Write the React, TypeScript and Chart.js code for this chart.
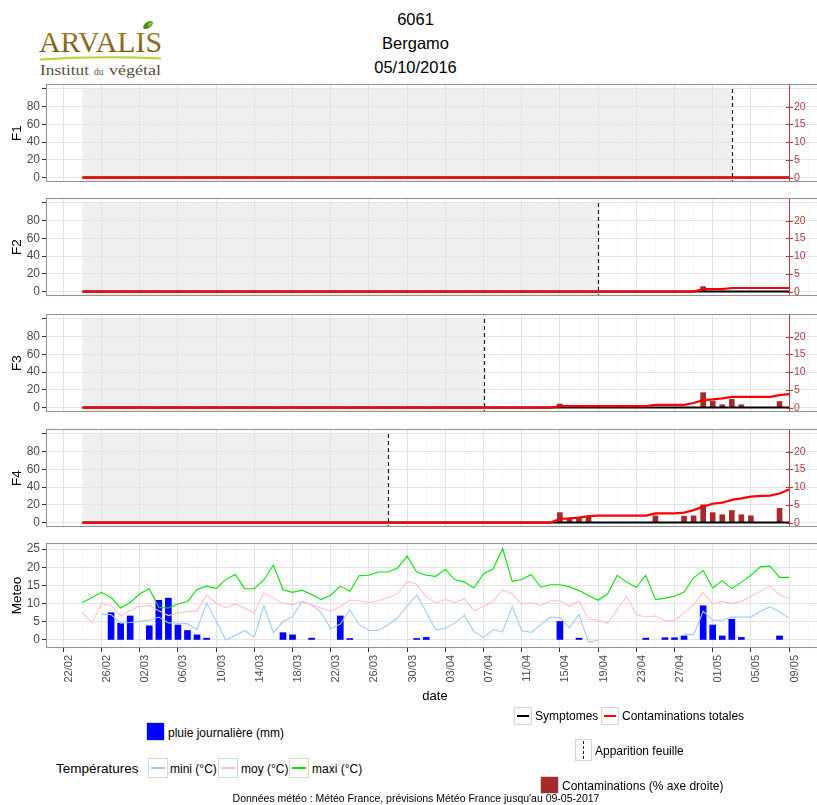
import { useEffect, useRef } from 'react';
import { Chart, registerables } from 'chart.js';

Chart.register(...registerables);

const FONT = '"Liberation Sans", Arial, Helvetica, sans-serif';

// ---------------- dates ----------------
const YEAR = 2017;
const ORIGIN_DATE = '22/02';
const FIRST_DATE = '24/02'; // first day of the daily series
const RIGHT_AXIS_DATE = '09/05';
const dateTicks = [
  '22/02', '26/02', '02/03', '06/03', '10/03', '14/03', '18/03', '22/03', '26/03', '30/03',
  '03/04', '07/04', '11/04', '15/04', '19/04', '23/04', '27/04', '01/05', '05/05', '09/05',
];

// ---------------- meteo (daily, from 24/02 to 09/05) ----------------
const tMax = [
  10.3, 11.7, 13.1, 11.7, 8.8, 10.3, 12.7, 14.1, 9.0, 8.8, 9.9, 10.6, 13.9, 14.8, 14.2,
  16.6, 18.0, 14.1, 14.1, 16.5, 20.6, 13.8, 13.1, 13.7, 12.5, 11.1, 12.3, 14.8, 13.4, 17.7,
  17.8, 18.7, 18.7, 19.8, 23.0, 18.7, 17.8, 17.5, 19.4, 16.6, 15.9, 14.3, 18.2, 19.5, 25.1,
  16.1, 16.6, 18.0, 14.5, 15.2, 15.2, 14.6, 13.6, 12.2, 10.9, 12.7, 17.8, 15.9, 14.5, 17.8,
  11.1, 11.5, 12.0, 13.2, 17.1, 19.1, 14.3, 16.3, 14.1, 15.9, 17.8, 20.1, 20.3, 17.2, 17.2,
];
const tMoy = [
  7.5, 4.7, 10.0, 9.5, 6.6, 8.1, 9.2, 9.5, 8.0, 6.7, 7.4, 7.8, 8.0, 12.4, 10.1,
  8.8, 9.9, 8.7, 7.4, 12.9, 11.5, 10.1, 9.7, 10.6, 9.6, 8.8, 7.9, 9.2, 11.0, 10.8,
  10.3, 10.8, 11.6, 12.6, 16.1, 15.3, 11.9, 10.2, 11.1, 10.3, 11.3, 8.0, 9.2, 10.6, 13.8,
  12.7, 9.9, 10.2, 9.5, 10.8, 10.8, 9.2, 10.8, 5.7, 5.5, 4.6, 8.3, 12.0, 6.9, 6.3,
  6.6, 5.3, 5.3, 7.4, 9.7, 13.1, 9.9, 10.6, 10.0, 10.6, 12.0, 13.4, 14.8, 12.4, 11.5,
];
const tMin: (number | null)[] = [
  null, null, 7.1, 7.0, 4.6, 4.8, 5.1, 5.4, 6.3, 4.7, 4.6, 4.5, 2.8, 10.2, 5.3,
  0.0, 1.2, 2.6, 0.7, 9.4, 2.0, 5.0, 6.4, 10.6, 9.6, 7.6, 3.1, 4.4, 8.3, 4.2,
  2.6, 2.6, 4.2, 6.0, 9.4, 12.4, 7.7, 2.8, 3.2, 4.7, 6.8, 2.3, 0.7, 2.8, 2.2,
  9.2, 2.6, 2.1, 4.2, 6.2, 6.2, 3.4, 7.0, -0.6, -0.1, null, null, null, null, null,
  null, null, null, 1.6, 1.4, 7.9, 5.4, 5.4, 6.3, 6.3, 6.3, 7.9, 9.2, 7.7, 6.0,
];
const rainDates = [
  '27/02', '28/02', '01/03', '03/03', '04/03', '05/03', '06/03', '07/03', '08/03', '09/03',
  '17/03', '18/03', '20/03', '23/03', '24/03', '31/03', '01/04', '15/04', '17/04', '24/04',
  '26/04', '27/04', '28/04', '30/04', '01/05', '02/05', '03/05', '04/05', '08/05',
];
const rainMm = [
  7.5, 4.6, 6.6, 3.9, 10.9, 11.5, 4.1, 2.6, 1.4, 0.5,
  2.0, 1.4, 0.5, 6.6, 0.4, 0.4, 0.7, 5.1, 0.5, 0.5,
  0.6, 0.6, 1.1, 9.4, 4.1, 1.1, 5.7, 0.7, 1.1,
];

// ---------------- leaves ----------------
const leafNames = ['F1', 'F2', 'F3', 'F4'];
const leafAppearance = ['03/05', '19/04', '07/04', '28/03'];

// symptoms (% , left axis), daily
const symptomes = [
  0, 0, 0, 0, 0, 0, 0, 0, 0, 0, 0, 0, 0, 0, 0,
  0, 0, 0, 0, 0, 0, 0, 0, 0, 0, 0, 0, 0, 0, 0,
  0, 0, 0, 0, 0, 0, 0, 0, 0, 0, 0, 0, 0, 0, 0,
  0, 0, 0, 0, 0, 0, 0, 0, 0, 0, 0, 0, 0, 0, 0,
  0, 0, 0, 0, 0, 0, 0, 0, 0, 0, 0, 0, 0, 0, 0,
];
// total contaminations (right axis), daily
const contTotF1 = [
  0, 0, 0, 0, 0, 0, 0, 0, 0, 0, 0, 0, 0, 0, 0,
  0, 0, 0, 0, 0, 0, 0, 0, 0, 0, 0, 0, 0, 0, 0,
  0, 0, 0, 0, 0, 0, 0, 0, 0, 0, 0, 0, 0, 0, 0,
  0, 0, 0, 0, 0, 0, 0, 0, 0, 0, 0, 0, 0, 0, 0,
  0, 0, 0, 0, 0, 0, 0, 0, 0, 0, 0, 0, 0, 0, 0,
];
const contTotF2 = [
  0, 0, 0, 0, 0, 0, 0, 0, 0, 0, 0, 0, 0, 0, 0,
  0, 0, 0, 0, 0, 0, 0, 0, 0, 0, 0, 0, 0, 0, 0,
  0, 0, 0, 0, 0, 0, 0, 0, 0, 0, 0, 0, 0, 0, 0,
  0, 0, 0, 0, 0, 0, 0, 0, 0, 0, 0, 0, 0, 0, 0,
  0, 0, 0, 0, 0, 0.7, 0.7, 0.7, 1.0, 1.0, 1.0, 1.0, 1.0, 1.0, 1.0,
];
const contTotF3 = [
  0, 0, 0, 0, 0, 0, 0, 0, 0, 0, 0, 0, 0, 0, 0,
  0, 0, 0, 0, 0, 0, 0, 0, 0, 0, 0, 0, 0, 0, 0,
  0, 0, 0, 0, 0, 0, 0, 0, 0, 0, 0, 0, 0, 0, 0,
  0, 0, 0, 0, 0, 0.4, 0.4, 0.4, 0.4, 0.4, 0.4, 0.4, 0.4, 0.4, 0.4,
  0.75, 0.75, 0.75, 0.75, 1.3, 2.1, 2.3, 2.6, 3.0, 3.0, 3.0, 3.0, 3.0, 3.5, 3.8,
];
const contTotF4 = [
  0, 0, 0, 0, 0, 0, 0, 0, 0, 0, 0, 0, 0, 0, 0,
  0, 0, 0, 0, 0, 0, 0, 0, 0, 0, 0, 0, 0, 0, 0,
  0, 0, 0, 0, 0, 0, 0, 0, 0, 0, 0, 0, 0, 0, 0,
  0, 0, 0, 0, 0, 1.0, 1.2, 1.4, 1.8, 1.95, 1.95, 1.95, 1.95, 1.95, 1.95,
  2.6, 2.6, 2.6, 2.8, 3.5, 4.5, 5.3, 5.6, 6.4, 6.8, 7.3, 7.5, 7.6, 8.2, 9.3,
];
// daily contaminations (bars, right axis)
const contDatesF1: string[] = [];
const contValsF1: number[] = [];
const contDatesF2 = ['30/04'];
const contValsF2 = [1.4];
const contDatesF3 = ['15/04', '30/04', '01/05', '02/05', '03/05', '04/05', '08/05'];
const contValsF3 = [1.0, 4.2, 1.8, 0.8, 2.3, 0.8, 1.7];
const contDatesF4 = [
  '15/04', '16/04', '17/04', '18/04', '25/04', '28/04', '29/04',
  '30/04', '01/05', '02/05', '03/05', '04/05', '05/05', '08/05',
];
const contValsF4 = [2.8, 0.9, 1.2, 1.7, 1.9, 1.8, 1.9, 5.0, 2.8, 2.2, 3.4, 2.2, 1.9, 4.0];

const contTot = [contTotF1, contTotF2, contTotF3, contTotF4];
const contDates = [contDatesF1, contDatesF2, contDatesF3, contDatesF4];
const contVals = [contValsF1, contValsF2, contValsF3, contValsF4];

// axis ticks
const fYMajor = [0, 20, 40, 60, 80, 100];
const fYLabels = ['0', '20', '40', '60', '80', ''];
const rightTicks = [0, 5, 10, 15, 20];
const RIGHT_RATIO = 4; // right axis 20 <-> left axis 80
const mYMajor = [0, 5, 10, 15, 20, 25];

// ---------------- helpers ----------------
const DAY_MS = 86400000;
function dayOf(s: string): number {
  const [dd, mm] = s.split('/').map(Number);
  const [od, om] = ORIGIN_DATE.split('/').map(Number);
  return Math.round((Date.UTC(YEAR, mm - 1, dd) - Date.UTC(YEAR, om - 1, od)) / DAY_MS);
}
const firstDay = dayOf(FIRST_DATE);
type Pt = { x: number; y: number | null };
const daily = (vals: (number | null)[]): Pt[] => vals.map((v, i) => ({ x: firstDay + i, y: v }));
const sparse = (dates: string[], vals: number[]): Pt[] => dates.map((d, i) => ({ x: dayOf(d), y: vals[i] }));

const majorDays = dateTicks.map(dayOf);
const xLabelByDay = new Map<number, string>(majorDays.map((d, i) => [d, dateTicks[i]]));
const xGridDays: number[] = [];
majorDays.forEach((d, i) => {
  xGridDays.push(d);
  if (i < majorDays.length - 1) xGridDays.push((d + majorDays[i + 1]) / 2);
  else xGridDays.push(d + (d - majorDays[i - 1]) / 2);
});
const fYGrid: number[] = [];
fYMajor.forEach((v, i) => {
  fYGrid.push(v);
  if (i < fYMajor.length - 1) fYGrid.push((v + fYMajor[i + 1]) / 2);
});
const mYGrid: number[] = [];
mYMajor.forEach((v, i) => {
  mYGrid.push(v);
  if (i < mYMajor.length - 1) mYGrid.push((v + mYMajor[i + 1]) / 2);
});

// ---------------- layout / style constants ----------------
const X_MIN = -1.71;
const X_MAX = 79.55;
const F_Y_MIN = -5;
const F_Y_MAX = 105.5;
const M_Y_MIN = -2.21;
const M_Y_MAX = 26.66;
const CANVAS_W = 840;
const PAD = 14;
const F_AREA_H = 98;
const F_AREA_TOPS = [84, 198, 314, 429];
const M_AREA_TOP = 543;
const M_AREA_H = 105;
const M_XAXIS_H = 60;

const GRID_MAJOR = '#E3E3E3';
const GRID_MINOR = '#F3F3F3';
const AXIS_TEXT = '#4D4D4D';
const TICK_COLOR = '#333333';
const BORDER = '#939393';
const SHADE = '#EFEFEF';
const RIGHT_AXIS = '#B03C3C';
const CONT_COLOR = '#A52A2A';
const RED = '#FF0000';
const MAXI = '#00E600';
const MOY = '#FFC0CB';
const MINI = '#9CCBF7';
const RAIN = '#0000FF';

const isMajorX = (v: any) => majorDays.includes(v);

function xScaleOpts(withLabels: boolean) {
  return {
    type: 'linear',
    min: X_MIN,
    max: X_MAX,
    offset: false,
    afterBuildTicks: (s: any) => {
      s.ticks = xGridDays.map((v) => ({ value: v }));
    },
    afterFit: (s: any) => {
      s.height = withLabels ? M_XAXIS_H : 0;
    },
    border: { display: false },
    grid: {
      offset: false,
      color: (c: any) => (isMajorX(c.tick?.value) ? GRID_MAJOR : GRID_MINOR),
      lineWidth: (c: any) => (isMajorX(c.tick?.value) ? 1 : 0.7),
      drawTicks: withLabels,
      tickLength: 4,
      tickColor: (c: any) => (isMajorX(c.tick?.value) ? TICK_COLOR : 'rgba(0,0,0,0)'),
      tickWidth: 1,
    },
    ticks: {
      display: withLabels,
      autoSkip: false,
      minRotation: 90,
      maxRotation: 90,
      labelOffset: 5.5,
      padding: 3,
      color: AXIS_TEXT,
      font: { family: FONT, size: 11 },
      callback: (v: any) => xLabelByDay.get(v) ?? '',
    },
    title: {
      display: withLabels,
      text: 'date',
      color: '#000',
      font: { family: FONT, size: 13 },
      padding: { top: 0, bottom: 4 },
    },
  };
}

function yScaleOpts(title: string, min: number, max: number, grid: number[], major: number[], labels: string[]) {
  return {
    type: 'linear',
    position: 'left',
    min,
    max,
    afterBuildTicks: (s: any) => {
      s.ticks = grid.map((v) => ({ value: v }));
    },
    afterFit: (s: any) => {
      s.width = 47;
    },
    border: { display: false },
    grid: {
      color: (c: any) => (major.includes(c.tick?.value) ? GRID_MAJOR : GRID_MINOR),
      lineWidth: (c: any) => (major.includes(c.tick?.value) ? 1 : 0.7),
      drawTicks: true,
      tickLength: 5,
      tickColor: (c: any) => (major.includes(c.tick?.value) ? TICK_COLOR : 'rgba(0,0,0,0)'),
      tickWidth: 1,
    },
    ticks: {
      padding: 2,
      color: AXIS_TEXT,
      font: { family: FONT, size: 12 },
      callback: (v: any) => {
        const k = major.indexOf(v);
        return k >= 0 ? labels[k] : '';
      },
    },
    title: {
      display: true,
      text: title,
      color: '#000',
      font: { family: FONT, size: 13.5 },
      padding: { top: 9, bottom: 0 },
    },
  };
}

function decor(p: { shadeFrom?: number; leafDay?: number; rightAxisDay?: number }) {
  return {
    id: 'decor',
    beforeDraw(chart: any) {
      if (p.leafDay == null || p.shadeFrom == null) return;
      const { ctx, chartArea: a, scales } = chart;
      const x0 = scales.x.getPixelForValue(p.shadeFrom);
      const x1 = scales.x.getPixelForValue(p.leafDay);
      const yTop = scales.y.getPixelForValue(100);
      ctx.save();
      ctx.fillStyle = SHADE;
      ctx.fillRect(x0, yTop, x1 - x0, a.bottom - yTop);
      ctx.restore();
    },
    afterDatasetsDraw(chart: any) {
      const { ctx, chartArea: a, scales } = chart;
      ctx.save();
      if (p.leafDay != null) {
        const x = Math.round(scales.x.getPixelForValue(p.leafDay)) + 0.5;
        const yTop = scales.y.getPixelForValue(100);
        ctx.strokeStyle = '#222';
        ctx.lineWidth = 1.2;
        ctx.setLineDash([4, 3]);
        ctx.beginPath();
        ctx.moveTo(x, yTop);
        ctx.lineTo(x, a.bottom);
        ctx.stroke();
        ctx.setLineDash([]);
      }
      if (p.rightAxisDay != null) {
        const x = Math.round(scales.x.getPixelForValue(p.rightAxisDay)) + 0.5;
        ctx.strokeStyle = RIGHT_AXIS;
        ctx.lineWidth = 1;
        ctx.beginPath();
        ctx.moveTo(x, a.top);
        ctx.lineTo(x, a.bottom);
        ctx.stroke();
        ctx.fillStyle = RIGHT_AXIS;
        ctx.font = `10.5px ${FONT}`;
        ctx.textAlign = 'left';
        ctx.textBaseline = 'middle';
        rightTicks.forEach((v) => {
          const y = Math.round(scales.y2.getPixelForValue(v)) + 0.5;
          ctx.beginPath();
          ctx.moveTo(x - 3.5, y);
          ctx.lineTo(x + 3.5, y);
          ctx.stroke();
          ctx.fillText(String(v), x + 4.5, y);
        });
      }
      ctx.restore();
    },
    afterDraw(chart: any) {
      const { ctx, chartArea: a } = chart;
      ctx.save();
      ctx.strokeStyle = BORDER;
      ctx.lineWidth = 1.1;
      ctx.strokeRect(Math.round(a.left) - 0.5, Math.round(a.top) + 0.5, a.right - a.left + 1, a.bottom - a.top - 1);
      ctx.restore();
    },
  };
}

const baseOptions = {
  responsive: false,
  animation: false,
  events: [],
  plugins: { legend: { display: false }, tooltip: { enabled: false }, title: { display: false } },
};

function fConfig(i: number) {
  return {
    type: 'line',
    data: {
      datasets: [
        {
          type: 'bar',
          label: 'Contaminations (% axe droite)',
          data: sparse(contDates[i], contVals[i]),
          yAxisID: 'y2',
          backgroundColor: CONT_COLOR,
          barThickness: 5,
          order: 3,
        },
        {
          type: 'line',
          label: 'Symptomes',
          data: daily(symptomes),
          yAxisID: 'y',
          borderColor: '#000',
          borderWidth: 2,
          pointRadius: 0,
          tension: 0,
          order: 2,
        },
        {
          type: 'line',
          label: 'Contaminations totales',
          data: daily(contTot[i]),
          yAxisID: 'y2',
          borderColor: RED,
          borderWidth: 2.2,
          pointRadius: 0,
          tension: 0,
          order: 1,
        },
      ],
    },
    options: {
      ...baseOptions,
      layout: { padding: { left: 0, right: 17, top: PAD, bottom: PAD } },
      scales: {
        x: xScaleOpts(false),
        y: yScaleOpts(leafNames[i], F_Y_MIN, F_Y_MAX, fYGrid, fYMajor, fYLabels),
        y2: { type: 'linear', display: false, min: F_Y_MIN / RIGHT_RATIO, max: F_Y_MAX / RIGHT_RATIO },
      },
    },
    plugins: [
      decor({ shadeFrom: firstDay, leafDay: dayOf(leafAppearance[i]), rightAxisDay: dayOf(RIGHT_AXIS_DATE) }),
    ],
  };
}

function meteoConfig() {
  return {
    type: 'line',
    data: {
      datasets: [
        { type: 'line', label: 'maxi (°C)', data: daily(tMax), borderColor: MAXI, borderWidth: 1.1, pointRadius: 0, tension: 0, order: 1 },
        { type: 'line', label: 'moy (°C)', data: daily(tMoy), borderColor: MOY, borderWidth: 1.1, pointRadius: 0, tension: 0, order: 2 },
        { type: 'line', label: 'mini (°C)', data: daily(tMin), borderColor: MINI, borderWidth: 1.1, pointRadius: 0, tension: 0, order: 3 },
        { type: 'bar', label: 'pluie journalière (mm)', data: sparse(rainDates, rainMm), backgroundColor: RAIN, barThickness: 6, order: 4 },
      ],
    },
    options: {
      ...baseOptions,
      layout: { padding: { left: 0, right: 17, top: PAD, bottom: 0 } },
      scales: {
        x: xScaleOpts(true),
        y: yScaleOpts('Meteo', M_Y_MIN, M_Y_MAX, mYGrid, mYMajor, mYMajor.map(String)),
      },
    },
    plugins: [decor({})],
  };
}

// ---------------- legend pieces ----------------
const abs = (s: any) => ({ position: 'absolute' as const, ...s });

function Txt({ left, cy, size = 12, children }: { left: number; cy: number; size?: number; children: any }) {
  return (
    <div style={abs({ left, top: cy - size * 0.62, fontSize: size, lineHeight: `${size * 1.2}px`, whiteSpace: 'nowrap', color: '#000' })}>
      {children}
    </div>
  );
}

function Key({ left, top, w = 18, h = 18, fill, line, dashed }: any) {
  return (
    <div
      style={abs({
        left,
        top,
        width: w,
        height: h,
        boxSizing: 'border-box',
        border: '1px solid #D6D6D6',
        background: fill || '#fff',
      })}
    >
      {line && <div style={abs({ left: 2, right: 2, top: h / 2 - 2, height: 2.2, background: line })} />}
      {dashed && <div style={abs({ left: w / 2 - 1.5, top: 1, bottom: 1, width: 0, borderLeft: '1.3px dashed #222' })} />}
    </div>
  );
}

export default function App() {
  const r0 = useRef<HTMLCanvasElement>(null);
  const r1 = useRef<HTMLCanvasElement>(null);
  const r2 = useRef<HTMLCanvasElement>(null);
  const r3 = useRef<HTMLCanvasElement>(null);
  const r4 = useRef<HTMLCanvasElement>(null);
  const fRefs = [r0, r1, r2, r3];

  useEffect(() => {
    document.body.style.margin = '0';
    const charts: Chart[] = [];
    fRefs.forEach((r, i) => {
      if (r.current) charts.push(new Chart(r.current, fConfig(i) as any));
    });
    if (r4.current) charts.push(new Chart(r4.current, meteoConfig() as any));
    return () => charts.forEach((c) => c.destroy());
  }, []);

  const fH = F_AREA_H + 2 * PAD;
  const mH = PAD + M_AREA_H + M_XAXIS_H;

  return (
    <div style={abs({ left: 0, top: 0, width: 817, height: 805, overflow: 'hidden', background: '#fff', fontFamily: FONT })}>
      {/* logo */}
      <svg style={abs({ left: 0, top: 0 })} width={200} height={85}>
        <defs>
          <linearGradient id="gold" x1="0" y1="0" x2="0" y2="1">
            <stop offset="0" stopColor="#B08B2C" />
            <stop offset="1" stopColor="#6E5012" />
          </linearGradient>
        </defs>
        <text x={39} y={52} fontFamily='"Liberation Serif", serif' fontSize={30} fill="url(#gold)" textLength={123} lengthAdjust="spacingAndGlyphs">
          ARVALIS
        </text>
        <ellipse cx={148} cy={25} rx={5.5} ry={3.2} transform="rotate(-35 148 25)" fill="#4F8E1D" />
        <ellipse cx={150} cy={24} rx={2.5} ry={1.5} transform="rotate(-35 150 24)" fill="#8CC43A" />
        <path d="M40 59.5 Q100 55.5 161 58.5" stroke="#B9D231" strokeWidth={2} fill="none" />
        <text x={40} y={74.5} fontFamily='"Liberation Serif", serif' fontSize={14.5} fill="#5C5038" textLength={49} lengthAdjust="spacingAndGlyphs">
          Institut
        </text>
        <text x={94} y={74.5} fontFamily='"Liberation Serif", serif' fontSize={9.5} fill="#5C5038">
          du
        </text>
        <text x={109} y={74.5} fontFamily='"Liberation Serif", serif' fontSize={14.5} fill="#5C5038" textLength={52} lengthAdjust="spacingAndGlyphs">
          végétal
        </text>
      </svg>

      {/* title */}
      {[
        ['6061', 10.4],
        ['Bergamo', 34.4],
        ['05/10/2016', 57.7],
      ].map(([t, top]) => (
        <div key={t as string} style={abs({ left: 415.5, top, transform: 'translateX(-50%)', fontSize: 16.5, lineHeight: '19.8px', whiteSpace: 'nowrap', color: '#000' })}>
          {t}
        </div>
      ))}

      {/* leaf panels */}
      {fRefs.map((r, i) => (
        <canvas
          key={i}
          ref={r}
          width={CANVAS_W}
          height={fH}
          style={abs({ left: 0, top: F_AREA_TOPS[i] - PAD, width: CANVAS_W, height: fH })}
        />
      ))}
      {/* meteo panel */}
      <canvas ref={r4} width={CANVAS_W} height={mH} style={abs({ left: 0, top: M_AREA_TOP - PAD, width: CANVAS_W, height: mH })} />

      {/* legends */}
      <Key left={514} top={707} line="#000" />
      <Txt left={535} cy={716}>Symptomes</Txt>
      <Key left={601} top={707} line={RED} />
      <Txt left={622} cy={716}>Contaminations totales</Txt>

      <Key left={146} top={722} w={19} h={19} fill={RAIN} />
      <Txt left={168} cy={733}>pluie journalière (mm)</Txt>

      <Key left={575} top={739} w={17} h={22} dashed />
      <Txt left={595} cy={751}>Apparition feuille</Txt>

      <Txt left={56} cy={769} size={13.5}>Températures</Txt>
      <Key left={148} top={758} w={20} h={20} line={MINI} />
      <Txt left={170} cy={769}>mini (°C)</Txt>
      <Key left={218} top={758} w={20} h={20} line={MOY} />
      <Txt left={241} cy={769}>moy (°C)</Txt>
      <Key left={289} top={758} w={20} h={20} line={MAXI} />
      <Txt left={312} cy={769}>maxi (°C)</Txt>

      <Key left={540} top={776} w={19} h={18} fill={CONT_COLOR} />
      <Txt left={562} cy={786}>Contaminations (% axe droite)</Txt>

      <div style={abs({ left: 416, top: 799 - 10.5 * 0.62, transform: 'translateX(-50%)', fontSize: 10.5, lineHeight: '12.6px', whiteSpace: 'nowrap', color: '#000' })}>
        Données météo : Météo France, prévisions Météo France jusqu'au 09-05-2017
      </div>
    </div>
  );
}
